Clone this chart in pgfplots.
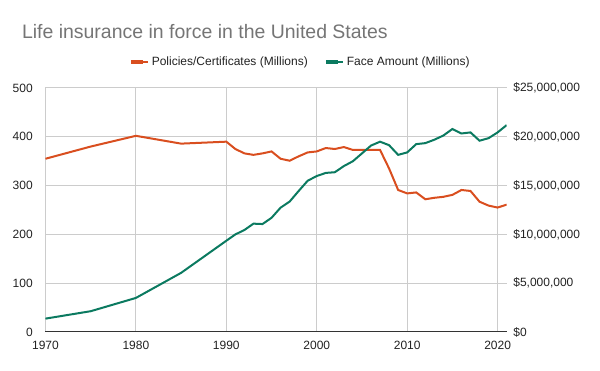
\documentclass[border=0pt]{standalone}
\usepackage{pgfplots}
\pgfplotsset{compat=1.18}
\usepackage{fontspec}
\setmainfont{Liberation Sans}
\definecolor{polred}{HTML}{D94E1F}
\definecolor{facegreen}{HTML}{0B7A60}
\definecolor{gridgray}{HTML}{CCCCCC}
\definecolor{titlegray}{HTML}{757575}
\definecolor{textdark}{HTML}{222222}
\definecolor{axisdark}{HTML}{333333}

\pgfplotstableread{
year policies
1970 355
1975 380
1980 402
1985 386
1990 390
1991 375
1992 366
1993 363
1994 366
1995 370
1996 355
1997 351
1998 360
1999 368
2000 370
2001 377
2002 375
2003 379
2004 373
2005 373
2006 373
2007 373
2008 335
2009 291
2010 284
2011 286
2012 272
2013 275
2014 277
2015 281
2016 291
2017 289
2018 267
2019 259
2020 255
2021 261
}\policiestable

\pgfplotstableread{
year face
1970 1370000
1975 2130000
1980 3490000
1985 6060000
1990 9350000
1991 10000000
1992 10450000
1993 11100000
1994 11060000
1995 11700000
1996 12740000
1997 13360000
1998 14450000
1999 15500000
2000 15980000
2001 16300000
2002 16370000
2003 17000000
2004 17500000
2005 18300000
2006 19100000
2007 19500000
2008 19140000
2009 18150000
2010 18400000
2011 19250000
2012 19350000
2013 19700000
2014 20130000
2015 20800000
2016 20340000
2017 20450000
2018 19600000
2019 19860000
2020 20450000
2021 21200000
}\facetable

\begin{document}
\begin{tikzpicture}
\useasboundingbox (0,0) rectangle (450pt,278.25pt);
\pgfplotsset{
  every axis/.append style={
    scale only axis, width=345.9pt, height=183pt,
    at={(34.1pt,29.25pt)}, anchor=south west,
    xmin=1970, xmax=2021,
    font=\fontsize{9}{11}\selectfont,
    /pgf/number format/assume math mode=true,
    major tick length=0pt,
    tick label style={text=textdark, font=\fontsize{9}{11}\selectfont},
  }
}
\node[anchor=base west, text=titlegray, font=\fontsize{14.6}{18}\selectfont, inner sep=0pt] at (16.3pt,249.5pt) {Life insurance in force in the United States};

\begin{axis}[
  ymin=0, ymax=500,
  xtick={1970,1980,...,2020},
  ytick={0,100,...,500},
  xticklabel style={/pgf/number format/1000 sep={}, yshift=-3pt},
  yticklabel style={xshift=-6pt},
  grid=major,
  grid style={gridgray, line width=0.75pt},
  axis x line*=bottom,
  axis y line*=left,
  x axis line style={axisdark, line width=0.75pt, -},
  y axis line style={draw=none},
]
\addplot[polred, line width=1.5pt] table[x=year, y=policies] {\policiestable};
\end{axis}

\begin{axis}[
  ymin=0, ymax=25000000,
  scaled y ticks=false,
  ytick={0,5000000,10000000,15000000,20000000,25000000},
  yticklabels={{\$0},{\$5,000,000},{\$10,000,000},{\$15,000,000},{\$20,000,000},{\$25,000,000}},
  yticklabel style={xshift=1.5pt},
  axis y line*=right,
  axis x line=none,
  y axis line style={draw=none},
  legend style={at={(0.553,1.1066)}, anchor=center, draw=none, fill=none,
    legend columns=2, text=textdark, font=\fontsize{9}{11}\selectfont,
    /tikz/every even column/.append style={column sep=10pt}},
  legend image code/.code={\path (0pt,0pt) -- (13pt,0pt);\draw[#1, line width=3pt] (0pt,0pt) -- (9pt,0pt);},
]
\addlegendimage{polred, line width=1.5pt}
\addlegendentry{Policies/Certificates (Millions)}
\addplot[facegreen, line width=1.5pt] table[x=year, y=face] {\facetable};
\addlegendentry{Face Amount (Millions)}
\end{axis}
\end{tikzpicture}
\end{document}
